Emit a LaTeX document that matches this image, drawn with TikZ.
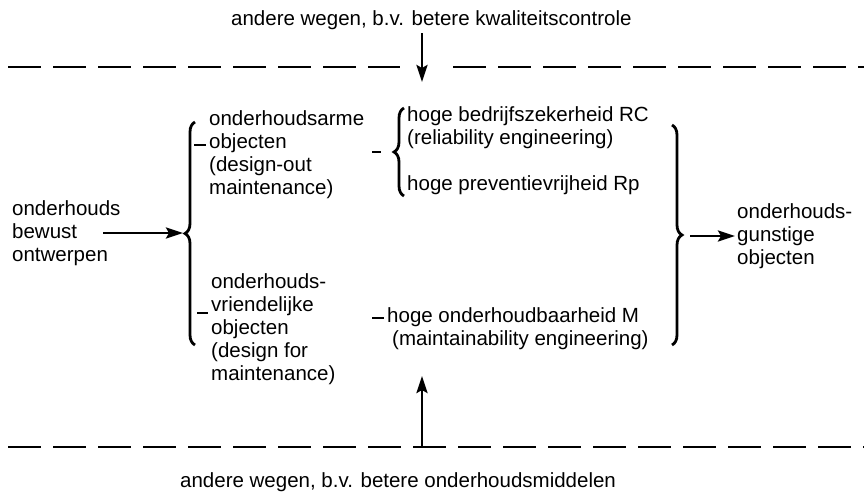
\documentclass[tikz,border=0pt]{standalone}
\usepackage{fontspec}
\setmainfont{Liberation Sans}
\usetikzlibrary{decorations.pathreplacing,arrows.meta}
\begin{document}
\begin{tikzpicture}[x=1pt,y=-1pt,
  txt/.style={font=\fontsize{20.5}{23}\selectfont, inner sep=0pt, align=left, anchor=west},
  brc/.style={decorate, decoration={brace, amplitude=10pt}, line width=2.8pt},
  arr/.style={line width=2.8pt, -{Stealth[length=17pt,width=11pt,inset=3pt]}},
  dl/.style={line width=2.4pt, dash pattern=on 33pt off 12pt},
  tick/.style={line width=2.8pt}]
\useasboundingbox (0,0) rectangle (864,496);
% texts
\node[txt] (top) at (231,20) {andere wegen, b.v. betere kwaliteitscontrole};
\node[txt] (bot) at (180,482) {andere wegen, b.v. betere onderhoudsmiddelen};
\node[txt] (ob) at (12,233) {onderhouds\\bewust\\ontwerpen};
\node[txt] (g1) at (209,155) {onderhoudsarme\\objecten\\(design-out\\maintenance)};
\node[txt] (g2) at (211,329) {onderhouds-\\vriendelijke\\objecten\\(design for\\maintenance)};
\node[txt] (m1) at (407,128) {hoge bedrijfszekerheid RC\\(reliability engineering)};
\node[txt] (m2) at (407,185) {hoge preventievrijheid Rp};
\node[txt] (m3) at (387,317) {hoge onderhoudbaarheid M};
\node[txt] (m4) at (392,340) {(maintainability engineering)};
\node[txt] (r1) at (737,236) {onderhouds-\\gunstige\\objecten};
% dashed lines
\coordinate (tl1) at (8,67); \coordinate (tl2) at (400,67);
\coordinate (tr1) at (453,67); \coordinate (tr2) at (864,67);
\coordinate (bl1) at (8,447); \coordinate (bl2) at (864,447);
\draw[dl] (tl1) -- (tl2);
\draw[dl] (tr1) -- (tr2);
\draw[dl] (bl1) -- (bl2);
% vertical arrows
\coordinate (ta) at (422,33); \coordinate (tb) at (422,82);
\draw[arr] (ta) -- (tb);
\coordinate (ba) at (422,447); \coordinate (bb) at (422,376);
\draw[arr] (ba) -- (bb);
% braces
\coordinate (lbt) at (195,122); \coordinate (lbb) at (195,345);
\draw[brc] (lbb) -- (lbt);
\coordinate (mbt) at (404,108); \coordinate (mbb) at (404,196);
\draw[brc] (mbb) -- (mbt);
\coordinate (rbt) at (672,125); \coordinate (rbb) at (672,345);
\draw[brc] (rbt) -- (rbb);
% horizontal arrows
\coordinate (la) at (103,233); \coordinate (lb) at (183,233);
\draw[arr] (la) -- (lb);
\coordinate (ra) at (690,236); \coordinate (rb) at (735,236);
\draw[arr] (ra) -- (rb);
% ticks
\coordinate (t1a) at (194,145); \coordinate (t1b) at (206,145);
\draw[tick] (t1a) -- (t1b);
\coordinate (t2a) at (197,313); \coordinate (t2b) at (208,313);
\draw[tick] (t2a) -- (t2b);
\coordinate (t3a) at (372,152); \coordinate (t3b) at (381,152);
\draw[tick] (t3a) -- (t3b);
\coordinate (t4a) at (372,318); \coordinate (t4b) at (384,318);
\draw[tick] (t4a) -- (t4b);
\end{tikzpicture}
\end{document}
